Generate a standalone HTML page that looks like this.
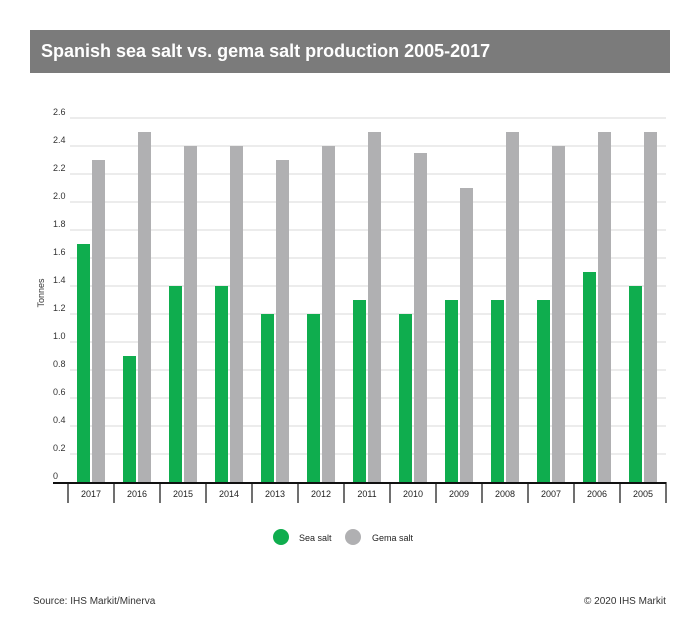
<!DOCTYPE html>
<html><head><meta charset="utf-8"><style>
body{margin:0;background:#fff;font-family:"Liberation Sans",Arial,sans-serif}
#wrap{position:relative;width:700px;height:626px;overflow:hidden}
#title{position:absolute;left:30px;top:30px;width:640px;height:43px;background:#7b7b7b;color:#fff;font-weight:bold;font-size:18px;line-height:43px;box-sizing:border-box;padding-left:11px}
.foot{position:absolute;top:596px;font-size:10px;color:#333}
</style></head><body>
<div id="wrap">
<div id="title">Spanish sea salt vs. gema salt production 2005-2017</div>
<svg id="chart" width="700" height="626" style="position:absolute;left:0;top:0"></svg>
<div class="foot" style="left:33px">Source: IHS Markit/Minerva</div>
<div class="foot" style="left:584px">© 2020 IHS Markit</div>
</div>
<script>
const categories=["2017","2016","2015","2014","2013","2012","2011","2010","2009","2008","2007","2006","2005"];
const seaSalt=[1.7,0.9,1.4,1.4,1.2,1.2,1.3,1.2,1.3,1.3,1.3,1.5,1.4];
const gemaSalt=[2.3,2.5,2.4,2.4,2.3,2.4,2.5,2.35,2.1,2.5,2.4,2.5,2.5];
const yTicks=[0,0.2,0.4,0.6,0.8,1.0,1.2,1.4,1.6,1.8,2.0,2.2,2.4,2.6];
const NS="http://www.w3.org/2000/svg";
const svg=document.getElementById('chart');
const x0=68,cw=46,y0=482,yTop=118,yMax=2.6;
const y=v=>y0-(v/yMax)*(y0-yTop);
const xc=i=>x0+i*cw;
function mk(t,a){const e=document.createElementNS(NS,t);for(const k in a)e.setAttribute(k,a[k]);svg.appendChild(e);return e;}
yTicks.forEach((v,i)=>{
  if(v>0){const g=mk('line',{x1:70,x2:666,y1:y(v),y2:y(v),stroke:'#d9d9d9','stroke-width':1});
  
  }
  const t=mk('text',{x:53,y:y(v)-3,'font-size':9,fill:'#333','text-anchor':'start'});
  t.textContent=v===0?'0':v.toFixed(1);
  
  
});
const yt=mk('text',{x:0,y:0,'font-size':9,fill:'#333','text-anchor':'middle',transform:'translate(44,293) rotate(-90)'});
yt.textContent='Tonnes';


categories.forEach((c,i)=>{
  const gx=xc(i);
  const b1=mk('rect',{x:gx+9,y:y(seaSalt[i]),width:13,height:y0-y(seaSalt[i]),fill:'#0fad4e'});
  
  
  const b2=mk('rect',{x:gx+24,y:y(gemaSalt[i]),width:13,height:y0-y(gemaSalt[i]),fill:'#b0b0b2'});
  
  
  const t=mk('text',{x:gx+cw/2,y:497,'font-size':9,fill:'#222','text-anchor':'middle'});
  t.textContent=c;
  
  
});
for(let i=0;i<=categories.length;i++){
  const l=mk('line',{x1:xc(i),x2:xc(i),y1:482,y2:503,stroke:'#111','stroke-width':1.2});
  
  
}
const ax=mk('line',{x1:53,x2:666,y1:483,y2:483,stroke:'#111','stroke-width':2});


const leg=[["Sea salt","#0fad4e",281,299],["Gema salt","#b0b0b2",353,372]];
leg.forEach(L=>{
  const c=mk('circle',{cx:L[2],cy:537,r:8,fill:L[1]});
  
  
  const t=mk('text',{x:L[3],y:541,'font-size':9,fill:'#222'});
  t.textContent=L[0];
  
  
});
</script>
</body></html>
